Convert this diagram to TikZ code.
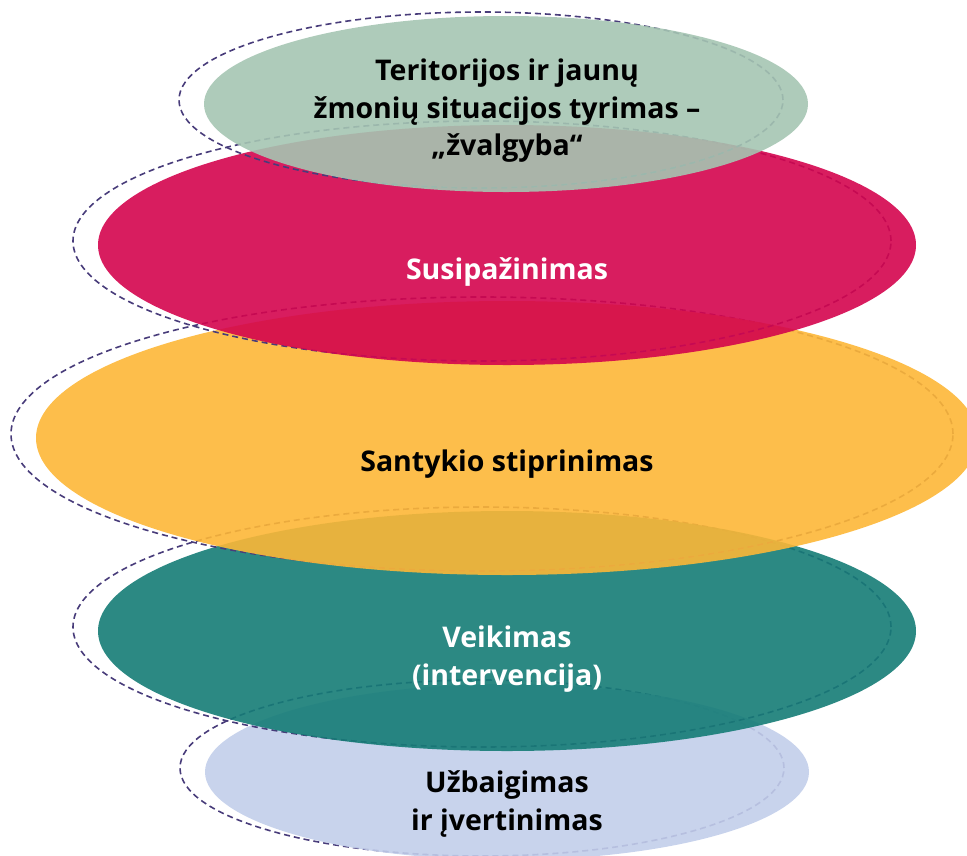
\documentclass[tikz,border=0pt]{standalone}
\usepackage{fontspec}
\setmainfont{Open Sans}
\usetikzlibrary{shapes.geometric}
\definecolor{cgreen}{RGB}{165,197,178}
\definecolor{cpink}{RGB}{212,4,78}
\definecolor{cyellow}{RGB}{253,183,55}
\definecolor{cteal}{RGB}{21,124,118}
\definecolor{clav}{RGB}{194,206,234}
\definecolor{cdash}{RGB}{72,60,122}
\tikzset{
  blob/.style={ellipse, inner sep=0pt, outer sep=0pt, draw=none, fill opacity=0.9},
  ring/.style={ellipse, inner sep=0pt, outer sep=0pt, draw=cdash, line width=1.6pt, dash pattern=on 6pt off 4pt},
  small/.style={minimum width=604pt, minimum height=176pt},
  mid/.style={minimum width=818pt, minimum height=240pt},
  big/.style={minimum width=942pt, minimum height=274pt},
  lbl/.style={align=center, font=\bfseries\fontsize{28.5}{37.5}\selectfont}
}
\begin{document}
\begin{tikzpicture}[x=1pt,y=-1pt]
\useasboundingbox (0,0) rectangle (967,855);
% bottom layer: lavender
\node[ring, small] (r5) at (482,768) {};
\node[blob, small, fill=clav] (e5) at (507,772) {};
% teal
\node[ring, mid] (r4) at (482,627) {};
\node[blob, mid, fill=cteal] (e4) at (507,631) {};
% yellow
\node[ring, big] (r3) at (482,434) {};
\node[blob, big, fill=cyellow] (e3) at (507,438) {};
% pink
\node[ring, mid] (r2) at (482,241) {};
\node[blob, mid, fill=cpink] (e2) at (507,245) {};
% green
\node[ring, small] (r1) at (481,100) {};
\node[blob, small, fill=cgreen] (e1) at (506,104) {};
% labels
\node[lbl, text=black] (t1) at (507,111) {Teritorijos ir jaunų\\žmonių situacijos tyrimas –\\„žvalgyba“};
\node[lbl, text=white] (t2) at (507,272) {Susipažinimas};
\node[lbl, text=black] (t3) at (507,464) {Santykio stiprinimas};
\node[lbl, text=white] (t4) at (507,659) {Veikimas\\(intervencija)};
\node[lbl, text=black] (t5) at (507,804) {Užbaigimas\\ir įvertinimas};
\end{tikzpicture}
\end{document}
